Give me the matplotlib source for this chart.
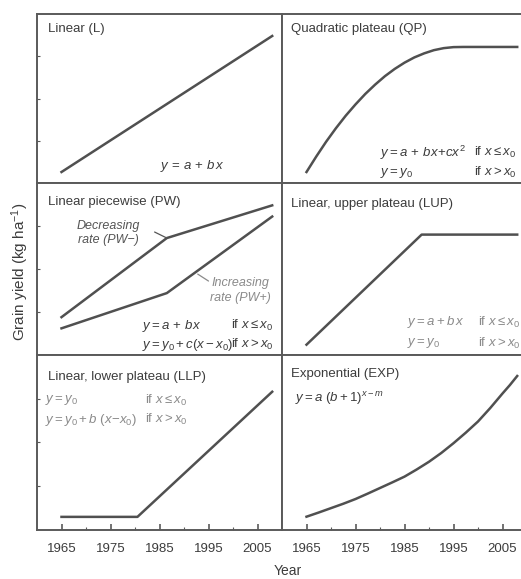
import numpy as np
import matplotlib
matplotlib.use('Agg')
import matplotlib.pyplot as plt

plt.rcParams['font.family'] = ['Liberation Sans', 'DejaVu Sans']
plt.rcParams['mathtext.fontset'] = 'custom'
plt.rcParams['mathtext.rm'] = 'Liberation Sans'
plt.rcParams['mathtext.it'] = 'Liberation Sans:italic'
plt.rcParams['mathtext.bf'] = 'Liberation Sans:bold'

# yield shapes (relative units, 0-100) for each response model
years_l = [1965, 2008]
yield_l = [6.5, 87]

years_qp = [1965, 1967, 1969, 1971, 1973, 1975, 1977, 1979, 1981, 1983, 1985, 1987,
            1989, 1991, 1993, 1995, 1997, 2008]
yield_qp = [6.5, 15.7, 24.4, 32.4, 39.8, 46.5, 52.7, 58.2, 63.2, 67.5, 71.2, 74.3,
            76.7, 78.6, 79.8, 80.4, 80.5, 80.5]

years_pw = [1965, 1986.5, 2008]
yield_pw_dec = [22, 68, 87]
yield_pw_inc = [15.5, 36, 80.5]

years_lup = [1965, 1988.5, 2008]
yield_lup = [6, 70, 70]

years_llp = [1965, 1980.5, 2008]
yield_llp = [7.5, 7.5, 79]

years_exp = [1965, 1967.5, 1970, 1972.5, 1975, 1977.5, 1980, 1982.5, 1985, 1987.5,
             1990, 1992.5, 1995, 1997.5, 2000, 2002.5, 2005, 2006.5, 2008]
yield_exp = [7.6, 10, 12.5, 15, 17.7, 20.8, 24, 27.2, 30.5, 34.6,
             39, 44, 49.6, 55.6, 62, 69.7, 78, 82.8, 88]

year_ticks = [1965, 1975, 1985, 1995, 2005]

line_col = '#505050'
text_col = '#3c3c3c'
light_col = '#8a8a8a'
frame_col = '#5a5a5a'

fig = plt.figure(figsize=(5.21, 5.79), dpi=100)
gs = fig.add_gridspec(3, 2, left=37/521, right=527/521, top=1-14/579, bottom=1-530/579,
                      wspace=0, hspace=0, height_ratios=[169, 172, 175])
axes = [[fig.add_subplot(gs[r, c]) for c in range(2)] for r in range(3)]

for r in range(3):
    for c in range(2):
        ax = axes[r][c]
        ax.set_xlim(1960, 2010)
        ax.set_ylim(0, 100)
        for s in ax.spines.values():
            s.set_color(frame_col)
            s.set_linewidth(1.4)
        ax.set_xticks(year_ticks)
        ax.set_xticks(np.arange(1970, 2010, 10), minor=True)
        ax.tick_params(axis='x', which='major', direction='in', length=4, width=1.2,
                       color=frame_col, labelsize=9.5, labelcolor=text_col, pad=9.5)
        ax.tick_params(axis='x', which='minor', direction='in', length=2, width=0.8,
                       color=frame_col)
        if r < 2:
            ax.tick_params(axis='x', which='both', length=0, labelbottom=False)
        if c == 0:
            ax.set_yticks([25, 50, 75])
            ax.tick_params(axis='y', direction='in', length=2, width=0.8,
                           color=frame_col, labelleft=False)
        else:
            ax.set_yticks([])

title_kw = dict(fontsize=9.5, color=text_col, va='center', ha='left')
eq_kw = dict(fontsize=9.5, va='center', ha='left')

# Linear
ax = axes[0][0]
ax.plot(years_l, yield_l, color=line_col, lw=1.8)
ax.text(0.045, 0.91, 'Linear (L)', transform=ax.transAxes, **title_kw)
ax.text(0.50, 0.10, r'$y\,=\,a\,+\,b\,x$', transform=ax.transAxes, color=text_col, **eq_kw)

# Quadratic plateau
ax = axes[0][1]
ax.plot(years_qp, yield_qp, color=line_col, lw=1.8)
ax.text(0.035, 0.91, 'Quadratic plateau (QP)', transform=ax.transAxes, **title_kw)
ax.text(0.40, 0.18, r'$y = a\,+\,bx\!+\!cx^2$', transform=ax.transAxes, color=text_col, **eq_kw)
ax.text(0.785, 0.18, r'if $x \leq x_0$', transform=ax.transAxes, color=text_col, **eq_kw)
ax.text(0.40, 0.06, r'$y = y_0$', transform=ax.transAxes, color=text_col, **eq_kw)
ax.text(0.785, 0.06, r'if $x > x_0$', transform=ax.transAxes, color=text_col, **eq_kw)

# Linear piecewise
ax = axes[1][0]
ax.plot(years_pw, yield_pw_dec, color=line_col, lw=1.8)
ax.plot(years_pw, yield_pw_inc, color=line_col, lw=1.8)
ax.text(0.045, 0.89, 'Linear piecewise (PW)', transform=ax.transAxes, **title_kw)
ax.text(0.29, 0.71, 'Decreasing\nrate (PW\u2212)', transform=ax.transAxes, ha='center',
        va='center', fontsize=9, style='italic', color='#555555', linespacing=1.3)
ax.annotate('', xy=(years_pw[1], yield_pw_dec[1]), xytext=(1984.0, 71.5),
            arrowprops=dict(arrowstyle='-', color='#555555', lw=0.9, shrinkA=0, shrinkB=0))
ax.text(0.83, 0.375, 'Increasing\nrate (PW+)', transform=ax.transAxes, ha='center',
        va='center', fontsize=9, style='italic', color=light_col, linespacing=1.3)
x_lead = 1992.8
ax.annotate('', xy=(x_lead, np.interp(x_lead, years_pw, yield_pw_inc) - 2), xytext=(1995.0, 43),
            arrowprops=dict(arrowstyle='-', color=light_col, lw=0.9, shrinkA=0, shrinkB=0))
ax.text(0.43, 0.17, r'$y = a\,+\,bx$', transform=ax.transAxes, color=text_col, **eq_kw)
ax.text(0.79, 0.17, r'if $x \leq x_0$', transform=ax.transAxes, color=text_col, **eq_kw)
ax.text(0.43, 0.06, r'$y = y_0 + c(x - x_0)$', transform=ax.transAxes, color=text_col, **eq_kw)
ax.text(0.79, 0.06, r'if $x > x_0$', transform=ax.transAxes, color=text_col, **eq_kw)

# Linear, upper plateau
ax = axes[1][1]
ax.plot(years_lup, yield_lup, color=line_col, lw=1.8)
ax.text(0.035, 0.88, 'Linear, upper plateau (LUP)', transform=ax.transAxes, **title_kw)
ax.text(0.51, 0.19, r'$y = a + b\,x$', transform=ax.transAxes, color=light_col, **eq_kw)
ax.text(0.80, 0.19, r'if $x \leq x_0$', transform=ax.transAxes, color=light_col, **eq_kw)
ax.text(0.51, 0.07, r'$y = y_0$', transform=ax.transAxes, color=light_col, **eq_kw)
ax.text(0.80, 0.07, r'if $x > x_0$', transform=ax.transAxes, color=light_col, **eq_kw)

# Linear, lower plateau
ax = axes[2][0]
ax.plot(years_llp, yield_llp, color=line_col, lw=1.8)
ax.text(0.045, 0.875, 'Linear, lower plateau (LLP)', transform=ax.transAxes, **title_kw)
ax.text(0.033, 0.74, r'$y = y_0$', transform=ax.transAxes, color=light_col, **eq_kw)
ax.text(0.44, 0.74, r'if $x \leq x_0$', transform=ax.transAxes, color=light_col, **eq_kw)
ax.text(0.033, 0.63, r'$y = y_0 + b\ (x\!-\!x_0)$', transform=ax.transAxes, color=light_col, **eq_kw)
ax.text(0.44, 0.63, r'if $x > x_0$', transform=ax.transAxes, color=light_col, **eq_kw)

# Exponential
ax = axes[2][1]
ax.plot(years_exp, yield_exp, color=line_col, lw=1.8)
ax.text(0.035, 0.89, 'Exponential (EXP)', transform=ax.transAxes, **title_kw)
ax.text(0.053, 0.75, r'$y = a\ (b + 1)^{x - m}$', transform=ax.transAxes, color=text_col, **eq_kw)

fig.text(20/521, 1-272/579, 'Grain yield (kg ha$^{-1}$)', rotation=90, ha='center', va='center',
         fontsize=11, color=text_col)
fig.text(288/521, 1-571/579, 'Year', ha='center', va='center', fontsize=10, color=text_col)

plt.savefig('out.png', dpi=100)
